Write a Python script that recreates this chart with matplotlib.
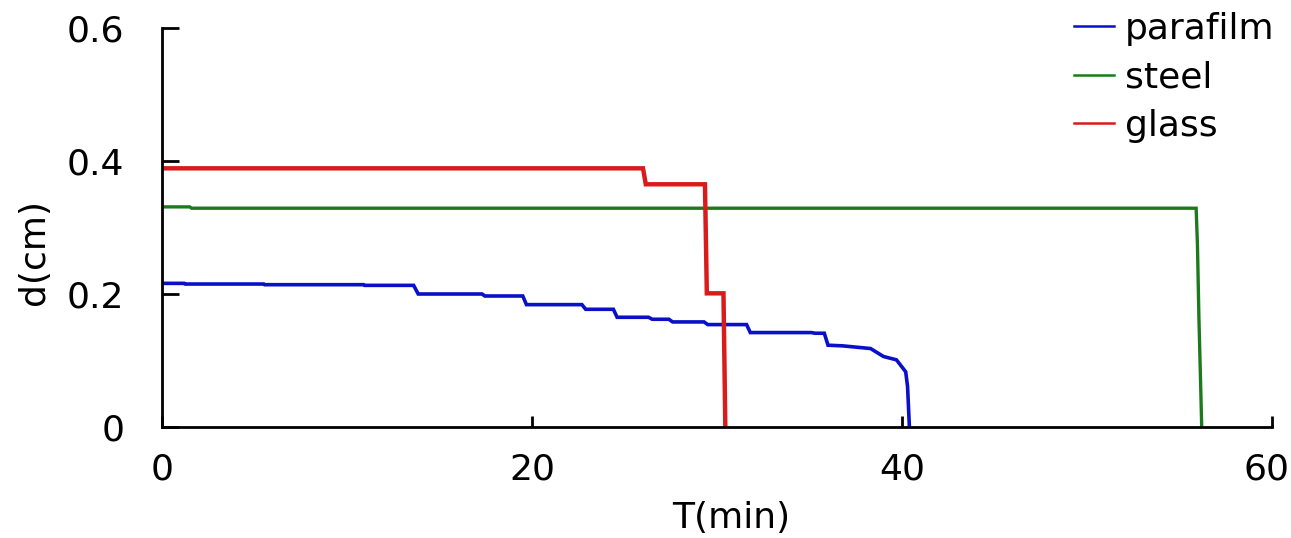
import matplotlib
matplotlib.use("Agg")
import matplotlib.pyplot as plt
import matplotlib.transforms as mtransforms

# Droplet height d (cm) over time T (min) on three surfaces
parafilm_t = [0, 1.2, 1.25, 5.5, 5.55, 10.9, 10.95, 13.6, 13.85, 17.3, 17.45, 19.5, 19.7,
              22.7, 22.9, 24.4, 24.6, 26.3, 26.5, 27.4, 27.6, 29.3, 29.5, 31.6, 31.8,
              35.1, 35.3, 35.8, 36.0, 36.8, 38.3, 39.0, 39.7, 40.2, 40.3, 40.4]
parafilm_d = [0.216, 0.216, 0.215, 0.215, 0.214, 0.214, 0.213, 0.213, 0.200, 0.200, 0.197, 0.197, 0.184,
              0.184, 0.177, 0.177, 0.165, 0.165, 0.162, 0.162, 0.158, 0.158, 0.154, 0.154, 0.142,
              0.142, 0.141, 0.141, 0.123, 0.122, 0.118, 0.106, 0.101, 0.083, 0.061, 0.0]

steel_t = [0, 1.5, 1.6, 55.9, 55.97, 56.05, 56.15, 56.2]
steel_d = [0.331, 0.331, 0.329, 0.329, 0.274, 0.164, 0.056, 0.0]

glass_t = [0, 26.0, 26.15, 29.35, 29.45, 30.35, 30.45]
glass_d = [0.389, 0.389, 0.365, 0.365, 0.201, 0.201, 0.0]

x_ticks = [0, 20, 40, 60]
y_ticks = [0, 0.2, 0.4, 0.6]
y_tick_labels = ["0", "0.2", "0.4", "0.6"]

plt.rcParams["font.family"] = ["DejaVu Sans"]
FS = 26

W, H = 1291, 538
fig = plt.figure(figsize=(W / 100, H / 100), dpi=100)
ax = fig.add_axes([162 / W, (H - 427) / H, (1272 - 162) / W, (427 - 28) / H])

ax.plot(parafilm_t, parafilm_d, color="#0a10c8", lw=2.6, label="parafilm", solid_joinstyle="miter")
ax.plot(steel_t, steel_d, color="#1c7a1c", lw=2.4, label="steel", solid_joinstyle="miter")
ax.plot(glass_t, glass_d, color="#d81c1c", lw=3.2, label="glass", solid_joinstyle="miter")

ax.set_xlim(0, 60)
ax.set_ylim(0, 0.6)
ax.set_xticks(x_ticks)
ax.set_yticks(y_ticks)
ax.set_yticklabels(y_tick_labels)

for side in ("top", "right"):
    ax.spines[side].set_visible(False)
for side in ("left", "bottom"):
    ax.spines[side].set_linewidth(2.0)
    ax.spines[side].set_capstyle("projecting")

ax.tick_params(axis="y", direction="in", length=12, width=2.0, pad=27, labelsize=FS)
ax.tick_params(axis="x", direction="in", length=8, width=2.0, pad=18, labelsize=FS)

# keep the last x tick label inside the canvas
last = ax.get_xticklabels()[-1]
last.set_transform(last.get_transform() + mtransforms.ScaledTranslation(-6 / 100, 0, fig.dpi_scale_trans))

ax.set_xlabel("T(min)", fontsize=FS)
ax.set_ylabel("d(cm)", fontsize=FS)
ax.xaxis.set_label_coords((731 - 162) / 1110, (427 - 518) / 399)
ax.xaxis.label.set_va("center")
ax.yaxis.set_label_coords((34 - 162) / 1110, (427 - 252) / 399)
ax.yaxis.label.set_va("center")

leg = ax.legend(loc="upper left", bbox_to_anchor=(1074 / W, 1 - 12 / H),
                bbox_transform=fig.transFigure, frameon=False, fontsize=FS,
                handlelength=1.1, handletextpad=0.3, labelspacing=0.4, borderpad=0,
                borderaxespad=0)
for h in leg.get_lines():
    h.set_linewidth(1.8)

fig.savefig("out.png", dpi=100)
